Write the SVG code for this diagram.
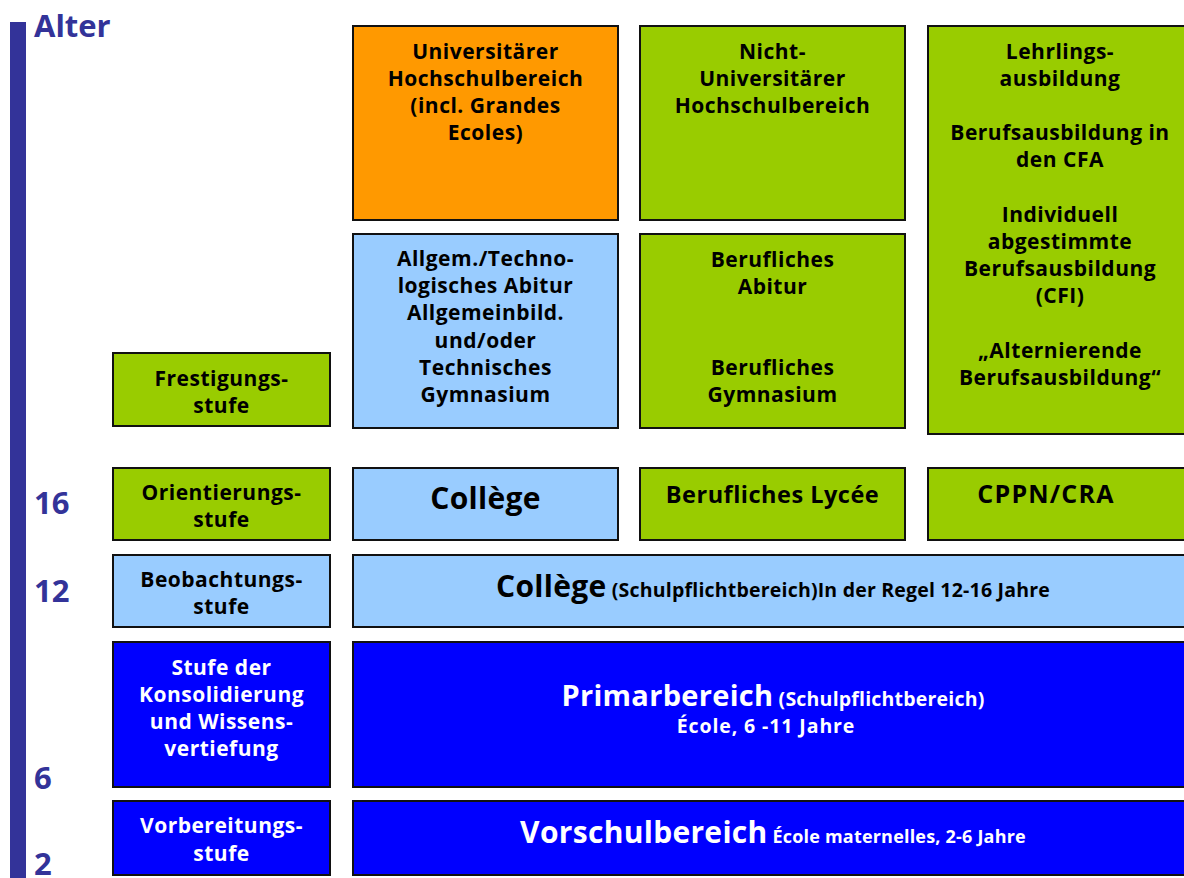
<svg xmlns="http://www.w3.org/2000/svg" width="1184" height="878" viewBox="0 0 1184 878">
<style>
text{font-family:"Open Sans","Liberation Sans",sans-serif;font-weight:bold;text-anchor:middle}
.box{stroke:#111;stroke-width:2}
.or{fill:#FF9900}.gr{fill:#99CC00}.lb{fill:#99CCFF}.bl{fill:#0000FF}
.t{font-size:21px;fill:#000;letter-spacing:0.5px}
.w{font-size:21px;fill:#fff;letter-spacing:0.5px}
.big{font-size:30px;letter-spacing:0.3px}
.sm{font-size:19.5px;letter-spacing:0.2px}
.age{font-size:31px;fill:#333399;text-anchor:start}
</style>
<rect x="10" y="22" width="16" height="860" fill="#333399"/>
<text class="age" x="34" y="37">Alter</text>
<text class="age" x="34" y="514">16</text>
<text class="age" x="34" y="602">12</text>
<text class="age" x="34" y="789">6</text>
<text class="age" x="34" y="875">2</text>
<g id="connectors"/>
<g id="uni"><rect class="box or" x="353" y="26" width="265" height="194"/>
<text class="t"><tspan x="485.5" y="59">Universitärer</tspan><tspan x="485.5" y="86">Hochschulbereich</tspan><tspan x="485.5" y="113">(incl. Grandes</tspan><tspan x="485.5" y="140">Ecoles)</tspan></text></g>
<g id="nichtuni"><rect class="box gr" x="640" y="26" width="265" height="194"/>
<text class="t"><tspan x="772.5" y="59">Nicht-</tspan><tspan x="772.5" y="86">Universitärer</tspan><tspan x="772.5" y="113">Hochschulbereich</tspan></text></g>
<g id="lehrling"><rect class="box gr" x="928" y="26" width="264" height="408"/>
<text class="t"><tspan x="1060" y="59">Lehrlings-</tspan><tspan x="1060" y="86">ausbildung</tspan><tspan x="1060" y="140">Berufsausbildung in</tspan><tspan x="1060" y="167">den CFA</tspan><tspan x="1060" y="222">Individuell</tspan><tspan x="1060" y="249">abgestimmte</tspan><tspan x="1060" y="276">Berufsausbildung</tspan><tspan x="1060" y="303">(CFI)</tspan><tspan x="1060" y="358">„Alternierende</tspan><tspan x="1060" y="385">Berufsausbildung“</tspan></text></g>
<g id="allgem"><rect class="box lb" x="353" y="234" width="265" height="194"/>
<text class="t"><tspan x="485.5" y="266">Allgem./Techno-</tspan><tspan x="485.5" y="293">logisches Abitur</tspan><tspan x="485.5" y="320">Allgemeinbild.</tspan><tspan x="485.5" y="348">und/oder</tspan><tspan x="485.5" y="375">Technisches</tspan><tspan x="485.5" y="402">Gymnasium</tspan></text></g>
<g id="berufabitur"><rect class="box gr" x="640" y="234" width="265" height="194"/>
<text class="t"><tspan x="772.5" y="267">Berufliches</tspan><tspan x="772.5" y="294">Abitur</tspan><tspan x="772.5" y="375">Berufliches</tspan><tspan x="772.5" y="402">Gymnasium</tspan></text></g>
<g id="frestigung"><rect class="box gr" x="113" y="353" width="217" height="73"/>
<text class="t"><tspan x="221.5" y="386">Frestigungs-</tspan><tspan x="221.5" y="413">stufe</tspan></text></g>
<g id="orientierung"><rect class="box gr" x="113" y="468" width="217" height="72"/>
<text class="t"><tspan x="221.5" y="500">Orientierungs-</tspan><tspan x="221.5" y="527">stufe</tspan></text></g>
<g id="college16"><rect class="box lb" x="353" y="468" width="265" height="72"/>
<text class="t big" x="485.5" y="509">Collège</text></g>
<g id="lycee"><rect class="box gr" x="640" y="468" width="265" height="72"/>
<text class="t" x="772.5" y="503" style="font-size:23.5px">Berufliches Lycée</text></g>
<g id="cppn"><rect class="box gr" x="928" y="468" width="264" height="72"/>
<text class="t" x="1046" y="503" style="font-size:25px;letter-spacing:1.2px">CPPN/CRA</text></g>
<g id="beobachtung"><rect class="box lb" x="113" y="555" width="217" height="72"/>
<text class="t"><tspan x="221.5" y="587">Beobachtungs-</tspan><tspan x="221.5" y="614">stufe</tspan></text></g>
<g id="college12"><rect class="box lb" x="353" y="555" width="840" height="72"/>
<text class="t" x="773" y="597"><tspan class="big">Collège</tspan><tspan class="sm"> (Schulpflichtbereich)In der Regel 12-16 Jahre</tspan></text></g>
<g id="konsolidierung"><rect class="box bl" x="113" y="642" width="217" height="145"/>
<text class="w"><tspan x="221.5" y="675">Stufe der</tspan><tspan x="221.5" y="702">Konsolidierung</tspan><tspan x="221.5" y="729">und Wissens-</tspan><tspan x="221.5" y="756">vertiefung</tspan></text></g>
<g id="primar"><rect class="box bl" x="353" y="642" width="840" height="145"/>
<text class="w" x="773" y="706"><tspan class="big" style="font-size:29px">Primarbereich</tspan><tspan class="sm"> (Schulpflichtbereich)</tspan></text>
<text class="w" x="766" y="733" style="font-size:19.5px;letter-spacing:0.9px">École, 6 -11 Jahre</text></g>
<g id="vorbereitung"><rect class="box bl" x="113" y="801" width="217" height="74"/>
<text class="w"><tspan x="221.5" y="833">Vorbereitungs-</tspan><tspan x="221.5" y="861">stufe</tspan></text></g>
<g id="vorschul"><rect class="box bl" x="353" y="801" width="840" height="74"/>
<text class="w" x="773" y="843"><tspan class="big" style="font-size:30px">Vorschulbereich</tspan><tspan class="sm" style="font-size:18px"> École maternelles, 2-6 Jahre</tspan></text></g>
</svg>
